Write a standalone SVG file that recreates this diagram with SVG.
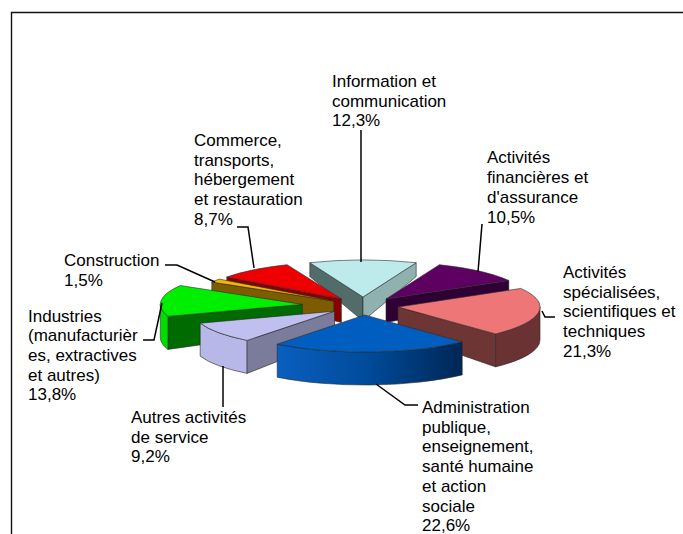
<svg xmlns="http://www.w3.org/2000/svg" width="683" height="534" viewBox="0 0 683 534">
<defs>
<linearGradient id="blueWall" x1="0" y1="0" x2="1" y2="0">
<stop offset="0" stop-color="#0a5fbf"/>
<stop offset="0.5" stop-color="#004a99"/>
<stop offset="1" stop-color="#002655"/>
</linearGradient>
<style>
.f{stroke:#2a2a2a;stroke-width:0.6;stroke-linejoin:round}
.t{font-family:"Liberation Sans",Arial,sans-serif;font-size:17px;fill:#000}
.ld{fill:none;stroke:#000;stroke-width:1.5}
</style>
</defs>
<rect x="0" y="0" width="683" height="534" fill="#fff"/>
<path d="M11.5,534 L11.5,12.5 L683,12.5" fill="none" stroke="#111" stroke-width="1.4"/>

<g id="slice-info">
<polygon class="f" points="309.8,262.7 363,297 363,321 309.8,276.5" fill="#526c6b"/>
<polygon class="f" points="363,297 416.2,262.7 416.2,276.5 363,321" fill="#8fb2b0"/>
<path class="f" d="M363,297 L309.8,262.7 A142,37 0 0 1 416.2,262.7 Z" fill="#bdeaea"/>
</g>
<g id="slice-financieres">
<polygon class="f" points="386,299 508.8,280.4 508.8,299.4 386,322.5" fill="#2e0033"/>
<path class="f" d="M386,299 L439.4,264.7 A142,37 0 0 1 508.8,280.4 Z" fill="#5e0062"/>
</g>
<g id="slice-commerce">
<polygon class="f" points="341.4,298.9 226.8,277 226.8,293 341.4,322.5" fill="#8a0000"/>
<path class="f" d="M341.4,298.9 L226.8,277 A142,37 0 0 1 287.1,264.7 Z" fill="#ee0000"/>
</g>
<g id="slice-construction">
<polygon class="f" points="333.8,301 211.8,282.1 211.8,299 333.8,325" fill="#7d5c00"/>
<path class="f" d="M333.8,301 L211.8,282.1 A142,37 0 0 1 219.2,279.1 Z" fill="#f2b800"/>
</g>
<g id="slice-industries">
<polygon class="f" points="302.3,304.4 168,316.4 168,349.4 302.3,330.5" fill="#006b00"/>
<path class="f" d="M168,316.4 A142,37 0 0 1 160.3,304.4 L160.3,337.4 A142,37 0 0 0 168,349.4 Z" fill="#00dd00"/>
<path class="f" d="M302.3,304.4 L168,316.4 A142,37 0 0 1 180.3,285.5 Z" fill="#00ee00"/>
</g>
<g id="slice-specialisees">
<polygon class="f" points="398,307 495.6,333.9 495.6,366.9 398,333" fill="#6e3535"/>
<path class="f" d="M540,307 A142,37 0 0 1 495.6,333.9 L495.6,366.9 A142,37 0 0 0 540,340 Z" fill="#6a3232"/>
<path class="f" d="M398,307 L520.8,288.4 A142,37 0 0 1 495.6,333.9 Z" fill="#ee7676"/>
</g>
<g id="slice-autres">
<path class="f" d="M247.1,340.4 A142,37 0 0 1 200.2,323.2 L200.2,356.2 A142,37 0 0 0 247.1,373.4 Z" fill="#b8b8e8"/>
<polygon class="f" points="334.5,311.2 247.1,340.4 247.1,373.4 334.5,339" fill="#7b7b9b"/>
<path class="f" d="M334.5,311.2 L247.1,340.4 A142,37 0 0 1 200.2,323.2 Z" fill="#bfbff0"/>
</g>
<g id="slice-administration">
<path class="f" d="M462.2,341.9 A142,37 0 0 1 277.2,344.2 L277.2,377.2 A142,37 0 0 0 462.2,374.9 Z" fill="url(#blueWall)"/>
<path class="f" d="M364.6,315 L462.2,341.9 A142,37 0 0 1 277.2,344.2 Z" fill="#005ec0"/>
</g>

<g id="connectors">
<polyline class="ld" points="361,130 361,262"/>
<polyline class="ld" points="482,224 478,272"/>
<polyline class="ld" points="542,311 545,317 555,317"/>
<polyline class="ld" points="376,384 405,405 418,405"/>
<polyline class="ld" points="223,366 223,407"/>
<polyline class="ld" points="143,340 154,340 162,303"/>
<polyline class="ld" points="165,265 177,265 215,282"/>
<polyline class="ld" points="237,227 248,227 254,268"/>
</g>

<g id="label-info">
<text class="t"><tspan x="332" y="87">Information et</tspan><tspan x="332" y="106.5">communication</tspan><tspan x="332" y="126">12,3%</tspan></text>
</g>
<g id="label-financieres">
<text class="t"><tspan x="487" y="163">Activités</tspan><tspan x="487" y="183">financières et</tspan><tspan x="487" y="203">d'assurance</tspan><tspan x="487" y="223">10,5%</tspan></text>
</g>
<g id="label-specialisees">
<text class="t"><tspan x="563" y="278">Activités</tspan><tspan x="563" y="297.7">spécialisées,</tspan><tspan x="563" y="317.4">scientifiques et</tspan><tspan x="563" y="337.1">techniques</tspan><tspan x="563" y="356.8">21,3%</tspan></text>
</g>
<g id="label-administration">
<text class="t"><tspan x="422" y="413">Administration</tspan><tspan x="422" y="432.7">publique,</tspan><tspan x="422" y="452.4">enseignement,</tspan><tspan x="422" y="472.1">santé humaine</tspan><tspan x="422" y="491.8">et action</tspan><tspan x="422" y="511.5">sociale</tspan><tspan x="422" y="531.2">22,6%</tspan></text>
</g>
<g id="label-autres">
<text class="t"><tspan x="131" y="423">Autres activités</tspan><tspan x="131" y="442.7">de service</tspan><tspan x="131" y="462.4">9,2%</tspan></text>
</g>
<g id="label-industries">
<text class="t"><tspan x="28" y="321.7">Industries</tspan><tspan x="28" y="341.3">(manufacturièr</tspan><tspan x="28" y="360.9">es, extractives</tspan><tspan x="28" y="380.5">et autres)</tspan><tspan x="28" y="400.1">13,8%</tspan></text>
</g>
<g id="label-construction">
<text class="t"><tspan x="64" y="266">Construction</tspan><tspan x="64" y="285.5">1,5%</tspan></text>
</g>
<g id="label-commerce">
<text class="t"><tspan x="194" y="146">Commerce,</tspan><tspan x="194" y="165.7">transports,</tspan><tspan x="194" y="185.4">hébergement</tspan><tspan x="194" y="205.1">et restauration</tspan><tspan x="194" y="224.8">8,7%</tspan></text>
</g>
</svg>
